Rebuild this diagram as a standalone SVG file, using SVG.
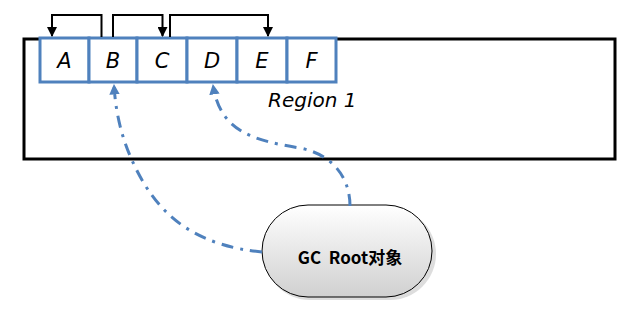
<svg xmlns="http://www.w3.org/2000/svg" width="638" height="313" viewBox="0 0 638 313">
<defs>
<style>
.cell{fill:#fff;stroke:#4F81BD;stroke-width:3}
.lbl{font-family:"DejaVu Sans","Liberation Sans",sans-serif;font-style:italic;font-size:21px;fill:#000;text-anchor:middle}
.ref{fill:none;stroke:#000;stroke-width:2}
.gc{fill:none;stroke:#4F81BD;stroke-width:3;stroke-dasharray:12 7 3 7}
</style>
<marker id="ah" viewBox="0 0 10 10" refX="9" refY="5" markerWidth="5" markerHeight="5" orient="auto">
<path d="M0,0 L10,5 L0,10 z" fill="#000"/>
</marker>
<marker id="bh" viewBox="0 0 10 10" refX="9" refY="5" markerWidth="3.5" markerHeight="3.5" orient="auto">
<path d="M0,0 L10,5 L0,10 z" fill="#4F81BD"/>
</marker>
<linearGradient id="g" x1="0" y1="0" x2="0" y2="1">
<stop offset="0" stop-color="#ffffff"/>
<stop offset="1" stop-color="#d0d0d0"/>
</linearGradient>
</defs>
<g id="region">
<rect x="24" y="39" width="591" height="120" fill="#fff" stroke="#000" stroke-width="3"/>
<text x="268" y="107" font-family="DejaVu Sans, Liberation Sans, sans-serif" font-style="italic" font-size="20">Region 1</text>
</g>
<g id="cellA"><rect class="cell" x="40" y="38" width="49" height="44"/><text class="lbl" x="64.5" y="68">A</text></g>
<g id="cellB"><rect class="cell" x="89" y="38" width="48" height="44"/><text class="lbl" x="113" y="68">B</text></g>
<g id="cellC"><rect class="cell" x="137" y="38" width="50" height="44"/><text class="lbl" x="162" y="68">C</text></g>
<g id="cellD"><rect class="cell" x="187" y="38" width="50" height="44"/><text class="lbl" x="212" y="68">D</text></g>
<g id="cellE"><rect class="cell" x="237" y="38" width="50" height="44"/><text class="lbl" x="262" y="68">E</text></g>
<g id="cellF"><rect class="cell" x="287" y="38" width="49" height="44"/><text class="lbl" x="311.5" y="68">F</text></g>
<g id="gcroot">
<rect x="264" y="208" width="172" height="92" rx="46" fill="#bbb" opacity="0.5"/>
<rect x="262" y="205" width="170" height="92" rx="46" fill="url(#g)" stroke="#000" stroke-width="1"/>
<text x="350" y="264" font-family="'Noto Sans CJK SC','DejaVu Sans',sans-serif" font-weight="bold" font-size="17" text-anchor="middle" xml:space="preserve">GC  Root对象</text>
</g>
<g id="connectors">
<path class="ref" d="M101.5,37 V15 H52 V36" marker-end="url(#ah)"/>
<path class="ref" d="M113,37 V15 H162.5 V36" marker-end="url(#ah)"/>
<path class="ref" d="M170,37 V15 H268 V36" marker-end="url(#ah)"/>
<path class="gc" d="M262,252 C200,246 165,220 142,180 C125,150 116,120 114,85" marker-end="url(#bh)"/>
<path class="gc" d="M350,206 C350,180 335,155 300,148 C250,140 220,130 213,85" marker-end="url(#bh)"/>
</g>
</svg>
